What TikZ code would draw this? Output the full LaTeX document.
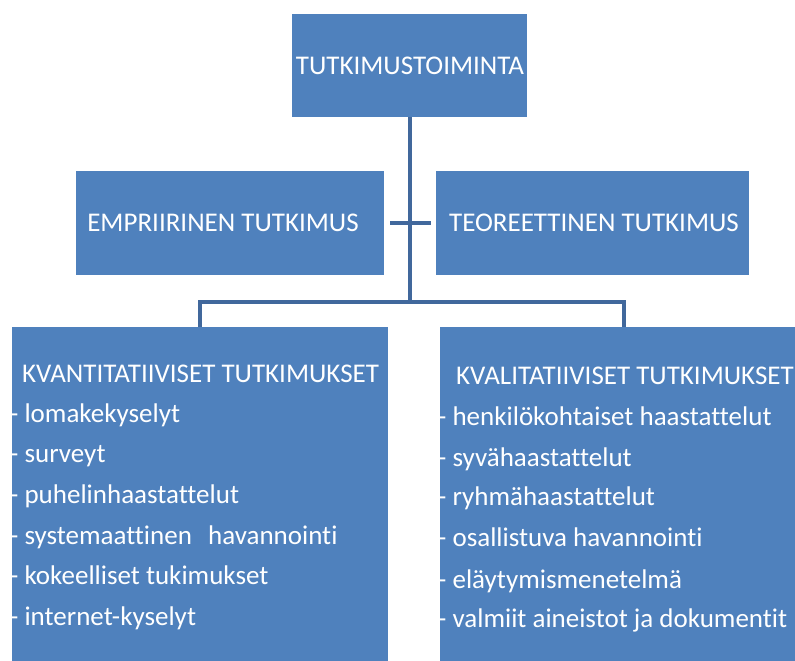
\documentclass[tikz,border=0pt]{standalone}
\usepackage{fontspec}
\setmainfont[Ligatures={NoCommon}]{Carlito}
\definecolor{boxblue}{HTML}{4F81BD}
\definecolor{lineblue}{HTML}{41689C}
\begin{document}
\begin{tikzpicture}[x=1pt,y=-1pt,
  box/.style={fill=boxblue, draw=none, inner sep=0pt},
  conn/.style={draw=lineblue, line width=4.5pt},
  lbl/.style={text=white, font=\fontsize{27}{32}\selectfont, inner sep=0pt},
  item/.style={lbl, anchor=base west}]
\useasboundingbox (0,0) rectangle (795,661);
% boxes
\node[box, anchor=north west, minimum width=235pt, minimum height=103pt] (top) at (292,14) {};
\node[box, anchor=north west, minimum width=308pt, minimum height=104pt] (emp) at (76,171) {};
\node[box, anchor=north west, minimum width=313pt, minimum height=104pt] (teo) at (436,171) {};
\node[box, anchor=north west, minimum width=376pt, minimum height=334pt] (kvan) at (12,327) {};
\node[box, anchor=north west, minimum width=360pt, minimum height=334pt] (kval) at (440,327) {};
% connectors
\coordinate (j) at (410,302);
\coordinate (jl) at (200,302);
\coordinate (jr) at (624,302);
\coordinate (cl) at (390,223);
\coordinate (cr) at (431,223);
\draw[conn] (top.south -| j) -- (j);
\draw[conn] (cl) -- (cr);
\draw[conn] (kvan.north -| jl) -- (jl) -- (jr) -- (kval.north -| jr);
% labels
\node[lbl] (ttop) at (410,66) {TUTKIMUSTOIMINTA};
\node[lbl] (temp) at (223,223) {EMPRIIRINEN TUTKIMUS};
\node[lbl] (tteo) at (594,223) {TEOREETTINEN TUTKIMUS};
% left list
\node[item] (kh) at (22,382) {KVANTITATIIVISET TUTKIMUKSET};
\node[item] (k1) at (10,422) {- lomakekyselyt};
\node[item] (k2) at (10,462) {- surveyt};
\node[item] (k3) at (10,503) {- puhelinhaastattelut};
\node[item] (k4) at (10,544) {- systemaattinen\hspace{0.6em}havannointi};
\node[item] (k5) at (10,584) {- kokeelliset tukimukset};
\node[item] (k6) at (10,625) {- internet-kyselyt};
% right list
\node[item] (qh) at (456,384) {KVALITATIIVISET TUTKIMUKSET};
\node[item] (q1) at (438,425) {- henkilökohtaiset haastattelut};
\node[item] (q2) at (438,466) {- syvähaastattelut};
\node[item] (q3) at (438,505) {- ryhmähaastattelut};
\node[item] (q4) at (438,546) {- osallistuva havannointi};
\node[item] (q5) at (438,588) {- eläytymismenetelmä};
\node[item] (q6) at (438,627) {- valmiit aineistot ja dokumentit};
\end{tikzpicture}
\end{document}
